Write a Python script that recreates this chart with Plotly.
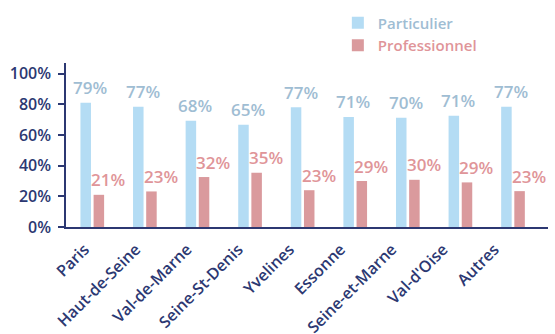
import plotly.graph_objects as go

categories = ["Paris", "Haut-de-Seine", "Val-de-Marne", "Seine-St-Denis", "Yvelines",
              "Essonne", "Seine-et-Marne", "Val-d'Oise", "Autres"]
particulier_bars = [81, 78.5, 69.3, 66.7, 78.1, 71.8, 71.3, 72.6, 78.5]
professionnel_bars = [21, 23.2, 32.6, 35.4, 24, 30, 30.8, 29.1, 23.4]
particulier_labels = ["79%", "77%", "68%", "65%", "77%", "71%", "70%", "71%", "77%"]
professionnel_labels = ["21%", "23%", "32%", "35%", "23%", "29%", "30%", "29%", "23%"]
y_ticks = [0, 20, 40, 60, 80, 100]
y_tick_labels = ["0%", "20%", "40%", "60%", "80%", "100%"]

NAVY = "#2c3872"
BLUE_BAR = "#b4dcf4"
RED_BAR = "#da9a9d"
BLUE_TXT = "#9fbdd3"
RED_TXT = "#df9599"
FONT = "Open Sans"

fig = go.Figure()
fig.add_trace(go.Bar(x=categories, y=particulier_bars,
                     name=f"<span style='color:{BLUE_TXT}'>Particulier</span>",
                     marker=dict(color=BLUE_BAR, line=dict(width=0))))
fig.add_trace(go.Bar(x=categories, y=professionnel_bars,
                     name=f"<span style='color:{RED_TXT}'>Professionnel</span>",
                     marker=dict(color=RED_BAR, line=dict(width=0))))
# invisible carrier for the category-label axis
fig.add_trace(go.Scatter(x=categories, y=[0] * len(categories), xaxis="x2", yaxis="y",
                         mode="markers", marker=dict(opacity=0, size=1),
                         showlegend=False, hoverinfo="skip"))

annotations = []
for c, v, t in zip(categories, particulier_bars, particulier_labels):
    annotations.append(dict(x=c, y=v, text=t, xref="x", yref="y", showarrow=False,
                            xshift=-2, yshift=15,
                            font=dict(family=FONT, size=17, color=BLUE_TXT, weight=600)))
for c, v, t in zip(categories, professionnel_bars, professionnel_labels):
    annotations.append(dict(x=c, y=v, text=t, xref="x", yref="y", showarrow=False,
                            xshift=16, yshift=15,
                            font=dict(family=FONT, size=17, color=RED_TXT, weight=600)))

fig.update_layout(
    width=555, height=334,
    margin=dict(l=50, r=7, t=63, b=107, autoexpand=False),
    paper_bgcolor="white", plot_bgcolor="rgba(0,0,0,0)",
    barmode="group", bargap=0.5, bargroupgap=0.2,
    font=dict(family=FONT, color=NAVY),
    showlegend=True,
    legend=dict(x=0.578, xanchor="left", y=1.344, yanchor="top",
                bgcolor="rgba(0,0,0,0)", tracegroupgap=0,
                font=dict(family=FONT, size=15, weight=600), itemwidth=30),
    annotations=annotations,
    xaxis=dict(showline=True, linecolor=NAVY, linewidth=1.5, ticks="",
               showticklabels=False, automargin=False, showgrid=False,
               domain=[0.0321, 1]),
    # label axis: the reference's category labels are spaced slightly tighter than the bars
    xaxis2=dict(anchor="y", domain=[0.0181, 0.9438], type="category",
                categoryorder="array", categoryarray=categories,
                range=[-0.5, len(categories) - 0.5],
                tickangle=-45, ticks="", showline=False, showgrid=False, zeroline=False,
                automargin=False, ticklabelstandoff=9,
                tickfont=dict(family=FONT, size=16, color=NAVY, weight=600)),
    yaxis=dict(range=[0, 107], tickmode="array", tickvals=y_ticks, ticktext=y_tick_labels,
               showline=True, automargin=False,
               linecolor=NAVY, linewidth=1.5, ticks="outside", ticklen=6,
               ticklabelstandoff=4,
               tickcolor=NAVY, tickwidth=1.5, showgrid=False, zeroline=False,
               tickfont=dict(family=FONT, size=16, color=NAVY, weight=600)),
)

fig.write_html("out.html", config={"displayModeBar": False},
               post_script="document.body.style.margin='0';document.body.style.overflow='hidden';")
